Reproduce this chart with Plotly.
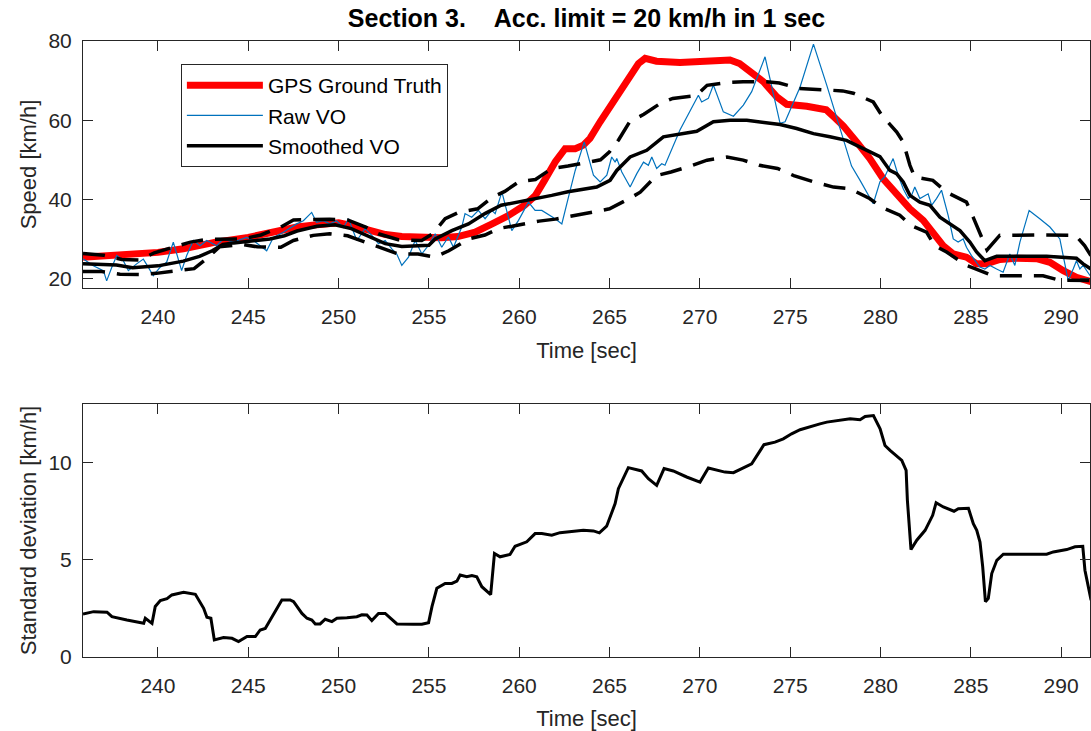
import plotly.graph_objects as go

# ---------------- data ----------------
gps_t = [235.85, 237.7, 240.0, 241.4, 243.2, 245.0, 246.2, 247.7, 248.8, 250.0, 250.7, 251.65, 252.6,
         253.5, 254.4, 255.7, 256.6, 257.56, 258.5, 259.4, 260.3, 260.9, 261.4, 262.0, 262.54, 263.1,
         263.55, 263.92, 264.48, 265.2, 265.95, 266.6, 266.97, 267.6, 268.9, 270.75, 271.67, 272.2,
         272.78, 273.52, 274.26, 274.81, 275.92, 277.0, 277.5, 277.95, 278.68, 279.41, 280.15, 280.9,
         281.63, 282.37, 282.92, 283.47, 284.03, 284.76, 285.32, 285.87, 286.61, 287.53, 288.64,
         289.38, 290.12, 290.85, 291.65]
gps_v = [25.4, 25.8, 26.6, 27.5, 29.2, 30.4, 31.7, 33.0, 33.6, 34.1, 33.4, 32.1, 31.1,
         30.6, 30.3, 30.3, 30.6, 31.7, 33.8, 35.9, 38.5, 41.0, 44.8, 49.5, 52.8, 52.8,
         53.7, 55.4, 59.6, 64.6, 69.7, 74.3, 75.6, 74.9, 74.6, 74.8, 75.2, 74.3,
         72.2, 69.7, 65.9, 64.0, 63.5, 62.6, 60.5, 58.5, 54.5, 50.3, 45.2, 41.0,
         37.6, 34.7, 31.7, 28.3, 26.2, 25.4, 23.7, 23.7, 24.8, 25.1, 25.0,
         24.1, 22.0, 20.3, 19.2]

raw_t = [235.87, 236.42, 236.98, 237.16, 237.44, 237.72, 238.08, 238.36, 238.82, 239.19, 239.47, 239.74,
         240.11, 240.48, 240.85, 241.13, 241.31, 241.59, 241.96, 242.33, 242.7, 243.25, 243.62, 244.17,
         244.91, 245.28, 246.02, 246.39, 246.94, 247.68, 248.05, 248.51, 248.78, 249.15, 249.52, 249.89,
         250.26, 250.55, 251.01, 251.47, 251.84, 252.21, 252.58, 252.95, 253.22, 253.5, 253.87, 254.24,
         254.61, 254.98, 255.35, 255.71, 256.08, 256.36, 256.82, 257.0, 257.37, 257.74, 258.11, 258.48,
         258.67, 259.04, 259.4, 259.59, 259.96, 260.51, 260.88, 261.25, 261.99, 262.36, 262.73, 263.1,
         263.6, 264.11, 264.48, 264.85, 265.12, 265.31, 265.4, 265.68, 266.14, 266.51, 266.88, 267.15,
         267.34, 267.61, 267.89, 268.07, 268.9, 269.46, 269.92, 270.1, 270.47, 270.75, 271.3, 271.86,
         272.41, 272.87, 273.61, 274.44, 274.72, 275.55, 276.29, 277.02, 277.76, 278.4, 278.87, 279.41,
         279.6, 279.97, 280.24, 280.7, 280.98, 281.26, 281.54, 281.72, 281.9, 282.18, 282.46, 282.64,
         282.83, 283.1, 283.38, 283.75, 284.03, 284.3, 284.58, 284.76, 285.04, 285.5, 285.78, 286.06,
         286.43, 286.79, 287.16, 287.44, 287.72, 288.23, 288.82, 289.38, 289.93, 290.39, 290.67, 290.85,
         291.04, 291.22, 291.61]
raw_v = [24.9, 23.2, 22.0, 19.4, 22.8, 25.8, 24.5, 22.0, 23.7, 24.9, 22.8, 20.7,
         22.8, 24.1, 29.2, 24.9, 22.0, 25.8, 29.6, 28.3, 29.6, 28.3, 30.0, 29.2,
         30.4, 29.6, 27.0, 30.4, 31.7, 33.8, 34.6, 36.7, 34.2, 34.6, 33.8, 34.6,
         32.9, 35.1, 29.6, 32.6, 30.9, 28.8, 29.6, 27.5, 26.2, 23.3, 25.4, 29.6,
         26.2, 28.4, 31.3, 27.9, 30.5, 27.9, 33.0, 36.4, 35.5, 37.2, 35.1, 37.2,
         36.4, 41.9, 35.5, 32.1, 34.7, 39.3, 37.2, 37.2, 35.1, 33.8, 40.6, 47.3,
         54.5, 46.1, 44.4, 46.1, 50.7, 49.4, 50.3, 46.9, 43.1, 46.5, 49.4, 48.6,
         50.7, 47.8, 49.0, 48.6, 57.5, 62.5, 66.3, 64.6, 65.5, 68.9, 62.1, 61.0,
         63.8, 67.2, 76.0, 59.2, 59.6, 68.4, 79.2, 68.9, 57.9, 48.4, 44.8, 40.6,
         38.9, 44.4, 45.7, 50.3, 46.1, 42.7, 40.2, 41.0, 43.1, 40.2, 41.0, 41.4,
         38.5, 40.2, 42.3, 35.9, 30.0, 29.2, 30.0, 27.9, 25.8, 22.9, 22.4, 23.3,
         22.4, 21.6, 26.2, 23.3, 29.2, 37.2, 35.1, 33.0, 30.0, 19.5, 22.4, 24.5,
         22.4, 23.3, 20.7]

smooth_t = [235.85, 237.7, 238.6, 240.0, 241.4, 242.3, 243.0, 243.6, 244.2, 245.0, 246.2, 247.0, 247.7,
            248.8, 249.8, 250.7, 251.7, 252.58, 253.5, 255.0, 255.35, 256.27, 257.19, 258.1, 259.0,
            259.96, 260.88, 261.8, 262.7, 263.37, 264.29, 265.03, 265.4, 266.14, 267.06, 267.98,
            268.9, 269.83, 270.75, 271.67, 272.6, 273.52, 274.44, 275.36, 276.29, 277.2, 278.12,
            279.05, 279.97, 280.52, 280.89, 281.26, 281.63, 282.18, 282.74, 283.29, 283.84, 284.4,
            284.95, 285.32, 285.78, 286.43, 287.35, 289.2, 290.85, 291.22, 291.65]
smooth_v = [23.7, 23.4, 22.7, 23.2, 24.4, 25.6, 27.0, 28.6, 29.0, 29.4, 30.0, 30.8, 32.0,
            33.2, 33.6, 32.6, 30.7, 28.8, 28.1, 28.4, 30.0, 32.1, 33.8, 36.4, 38.5,
            39.3, 40.2, 41.0, 41.9, 42.5, 43.1, 44.8, 47.3, 50.7, 52.4, 55.8,
            56.4, 57.2, 59.6, 60.0, 60.0, 59.4, 58.9, 57.9, 56.6, 55.8, 54.9,
            52.8, 50.8, 47.3, 46.5, 44.4, 41.0, 39.3, 38.5, 35.5, 33.8, 32.1,
            29.2, 26.7, 24.5, 25.6, 25.6, 25.6, 25.1, 23.7, 22.4]

upper_t = [235.85, 237.0, 238.0, 239.0, 239.8, 240.9, 241.8, 242.7, 243.6, 244.7, 245.7, 246.8, 247.5,
           248.6, 249.5, 250.5, 251.5, 252.2, 253.3, 254.6, 255.2, 255.9, 256.7, 257.7, 258.5, 259.2,
           260.0, 260.9, 261.8, 262.7, 263.8, 264.5, 265.0, 265.5, 266.1, 266.9, 267.8, 268.5, 269.8,
           270.4, 271.5, 272.4, 273.7, 274.4, 275.5, 276.5, 277.2, 277.9, 278.5, 279.6, 280.06, 280.9,
           281.26, 281.63, 281.9, 282.9, 283.66, 284.76, 285.13, 285.6, 285.9, 286.6, 287.5, 289.0,
           290.8, 291.3, 291.65]
upper_v = [26.3, 25.9, 24.8, 24.7, 26.5, 28.0, 29.2, 29.9, 30.0, 30.0, 31.0, 33.0, 34.8,
           35.0, 35.0, 34.8, 33.0, 31.3, 29.8, 29.6, 31.3, 35.1, 36.8, 37.6, 40.5, 42.0,
           44.5, 45.0, 47.8, 48.4, 49.3, 50.0, 52.0, 55.0, 59.5, 61.5, 64.2, 65.5, 66.2,
           68.8, 69.5, 69.7, 69.7, 69.4, 68.0, 67.8, 67.6, 67.4, 66.8, 64.6, 61.3, 57.0,
           54.5, 48.6, 45.6, 44.8, 41.8, 39.3, 35.5, 30.5, 27.2, 30.9, 31.0, 31.0,
           30.9, 28.3, 25.8]

lower_t = [235.85, 236.8, 237.9, 239.0, 239.9, 241.0, 242.0, 242.7, 243.4, 244.7, 245.5, 246.8, 247.5,
           248.6, 249.5, 250.5, 251.2, 252.3, 253.3, 254.4, 255.3, 256.1, 257.2, 258.1, 258.9, 259.6,
           261.1, 262.0, 263.1, 264.2, 265.0, 266.1, 266.7, 267.6, 268.4, 269.6, 270.4, 271.5, 272.4,
           273.3, 274.3, 275.2, 276.3, 277.4, 278.3, 279.4, 280.06, 281.07, 281.7, 282.55, 283.0,
           283.66, 284.76, 285.3, 286.2, 289.0, 289.9, 291.65]
lower_v = [21.8, 21.8, 21.1, 21.0, 21.3, 22.0, 22.5, 25.0, 28.0, 28.6, 28.0, 27.9, 29.6,
           30.9, 31.3, 30.8, 29.6, 27.9, 26.2, 26.2, 25.4, 27.0, 30.0, 31.0, 32.7, 33.2,
           34.5, 35.0, 36.0, 36.8, 37.6, 40.2, 41.8, 46.0, 46.9, 48.6, 49.9, 50.7, 49.9,
           48.6, 47.8, 46.0, 44.4, 43.1, 42.7, 40.2, 38.0, 36.0, 33.4, 31.7, 28.3,
           26.7, 23.3, 22.4, 20.7, 20.7, 19.6, 19.5]

std_t = [235.85, 236.44, 237.18, 237.45, 238.28, 238.65, 239.21, 239.3, 239.67, 239.85, 240.13, 240.5,
         240.77, 241.42, 242.07, 242.53, 242.71, 242.93, 243.12, 243.63, 244.1, 244.46, 244.93, 245.39,
         245.66, 245.94, 246.31, 246.86, 247.32, 247.51, 247.97, 248.25, 248.52, 248.71, 248.98, 249.26,
         249.63, 249.91, 250.46, 251.01, 251.29, 251.57, 251.84, 252.21, 252.58, 253.23, 254.15, 254.61,
         254.98, 255.17, 255.44, 255.9, 256.27, 256.55, 256.73, 257.1, 257.38, 257.65, 257.93, 258.42,
         258.63, 258.94, 259.49, 259.77, 260.42, 260.88, 261.25, 261.8, 262.26, 263.55, 264.11, 264.44,
         264.84, 265.31, 265.49, 266.04, 266.78, 267.15, 267.61, 268.02, 268.53, 269.27, 270.01, 270.47,
         271.39, 271.86, 272.87, 273.15, 273.55, 274.16, 274.62, 275.08, 275.55, 276.65, 277.03, 278.32,
         278.87, 279.15, 279.61, 279.98, 280.25, 280.53, 281.18, 281.42, 281.49, 281.69, 282.01, 282.47,
         282.89, 283.08, 283.48, 284.07, 284.31, 284.87, 285.14, 285.33, 285.51, 285.66, 285.81, 285.97,
         286.16, 286.44, 286.8, 287.54, 288.47, 289.2, 289.57, 290.31, 290.77, 291.2, 291.32, 291.6,
         291.66]
std_v = [2.21, 2.33, 2.30, 2.07, 1.90, 1.82, 1.73, 1.99, 1.73, 2.60, 2.90, 3.00,
         3.19, 3.32, 3.22, 2.50, 2.04, 1.99, 0.88, 1.00, 0.96, 0.79, 1.05, 1.05,
         1.39, 1.47, 2.07, 2.93, 2.93, 2.84, 2.24, 1.99, 1.90, 1.70, 1.70, 1.94,
         1.82, 1.99, 2.02, 2.07, 2.17, 2.16, 1.87, 2.24, 2.24, 1.70, 1.68, 1.68,
         1.76, 2.59, 3.53, 3.78, 3.78, 3.90, 4.21, 4.12, 4.18, 4.12, 3.61, 3.21,
         5.32, 5.15, 5.27, 5.69, 5.92, 6.34, 6.34, 6.26, 6.39, 6.51, 6.48, 6.38,
         6.72, 7.88, 8.65, 9.73, 9.56, 9.16, 8.82, 9.68, 9.56, 9.25, 8.99, 9.71,
         9.50, 9.47, 9.93, 10.36, 10.91, 11.04, 11.21, 11.47, 11.68, 11.98, 12.07, 12.24,
         12.19, 12.36, 12.41, 11.73, 10.87, 10.62, 10.10, 9.59, 8.05, 5.52, 6.00, 6.51,
         7.28, 7.93, 7.71, 7.49, 7.62, 7.64, 6.85, 6.51, 5.91, 4.63, 2.84, 3.01,
         4.29, 4.97, 5.28, 5.28, 5.27, 5.28, 5.40, 5.52, 5.66, 5.69, 4.46, 3.10,
         2.92]

x_ticks = [240, 245, 250, 255, 260, 265, 270, 275, 280, 285, 290]
speed_ticks = [20, 40, 60, 80]
std_ticks = [0, 5, 10]

title_text = "Section 3.\u00a0\u00a0\u00a0\u00a0Acc. limit = 20 km/h in 1 sec"

# ---------------- figure ----------------
FONT = "Liberation Sans, Arial, Helvetica, sans-serif"
AX = "#262626"
TICK = 21
LAB = 22

fig = go.Figure()
fig.add_trace(go.Scatter(x=gps_t, y=gps_v, mode="lines", name="GPS Ground Truth",
                         line=dict(color="#FF0000", width=7), xaxis="x", yaxis="y"))
fig.add_trace(go.Scatter(x=raw_t, y=raw_v, mode="lines", name="Raw VO",
                         line=dict(color="#0072BD", width=1.2), xaxis="x", yaxis="y"))
fig.add_trace(go.Scatter(x=smooth_t, y=smooth_v, mode="lines", name="Smoothed VO",
                         line=dict(color="black", width=3.5), xaxis="x", yaxis="y"))
fig.add_trace(go.Scatter(x=upper_t, y=upper_v, mode="lines", showlegend=False,
                         line=dict(color="black", width=3.5, dash="22px,12px"), xaxis="x", yaxis="y"))
fig.add_trace(go.Scatter(x=lower_t, y=lower_v, mode="lines", showlegend=False,
                         line=dict(color="black", width=3.5, dash="22px,12px"), xaxis="x", yaxis="y"))
fig.add_trace(go.Scatter(x=std_t, y=std_v, mode="lines", showlegend=False,
                         line=dict(color="black", width=3), xaxis="x2", yaxis="y2"))

xr = [235.85, 291.6]
common_x = dict(range=xr, tickvals=x_ticks, ticks="inside", ticklen=10, tickwidth=1, tickcolor=AX,
                showline=True, linecolor=AX, linewidth=1, mirror="ticks", showgrid=False,
                zeroline=False, tickfont=dict(size=TICK, color=AX, family=FONT),
                ticklabelstandoff=10)
common_y = dict(ticks="inside", ticklen=10, tickwidth=1, tickcolor=AX,
                showline=True, linecolor=AX, linewidth=1, mirror="ticks", showgrid=False,
                zeroline=False, tickfont=dict(size=TICK, color=AX, family=FONT),
                ticklabelstandoff=6)

fig.update_layout(
    width=1091, height=731,
    margin=dict(l=83, r=1, t=41, b=74),
    paper_bgcolor="white", plot_bgcolor="white",
    font=dict(family=FONT, color=AX),
    title=dict(text="<b>" + title_text + "</b>", x=0.5, xref="paper", xanchor="center",
               y=1 - 18 / 731, yref="container", yanchor="middle",
               font=dict(size=25, color="black", family=FONT)),
    xaxis=dict(domain=[0, 1], anchor="y",
               title=dict(text="Time [sec]", font=dict(size=LAB, color=AX, family=FONT), standoff=15),
               **common_x),
    yaxis=dict(domain=[0.599, 1], anchor="x", range=[17.6, 80], tickvals=speed_ticks,
               title=dict(text="Speed [km/h]", font=dict(size=LAB, color=AX, family=FONT), standoff=5),
               **common_y),
    xaxis2=dict(domain=[0, 1], anchor="y2",
                title=dict(text="Time [sec]", font=dict(size=LAB, color=AX, family=FONT), standoff=15),
                **common_x),
    yaxis2=dict(domain=[0, 0.4107], anchor="x2", range=[0, 13], tickvals=std_ticks,
                title=dict(text="Standard deviation [km/h]", font=dict(size=LAB, color=AX, family=FONT),
                           standoff=5),
                **common_y),
    legend=dict(x=0.0972, y=0.9627, xanchor="left", yanchor="top",
                bgcolor="white", bordercolor=AX, borderwidth=1,
                font=dict(size=21, color="black", family=FONT),
                itemwidth=76, tracegroupgap=0),
    showlegend=True,
)

fig.write_html("out.html")
